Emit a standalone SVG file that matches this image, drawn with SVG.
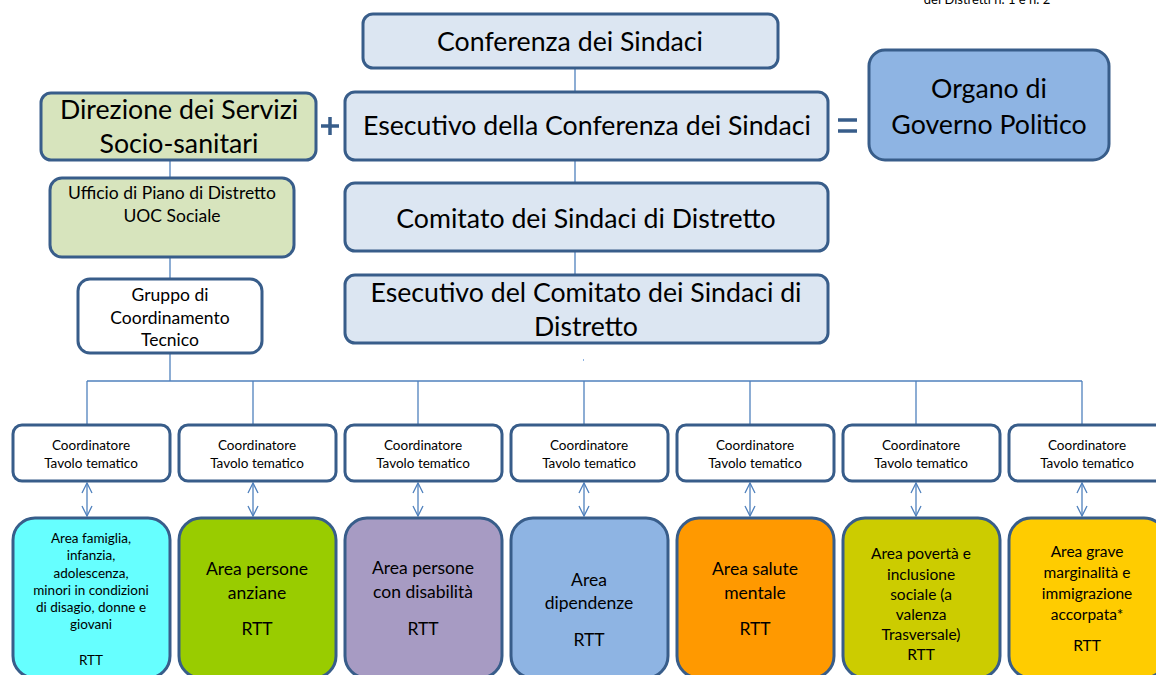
<svg xmlns="http://www.w3.org/2000/svg" width="1156" height="675" viewBox="0 0 1156 675">
<defs>
<style>
text{font-family:Lato,"Open Sans","Liberation Sans",sans-serif;fill:#000;text-anchor:middle}
.top{fill:#dce6f2;stroke:#385d8a;stroke-width:3}
.grn{fill:#d7e4bd;stroke:#385d8a;stroke-width:3}
.wht{fill:#fff;stroke:#385d8a;stroke-width:3}
.area{stroke:#385d8a;stroke-width:3}
.ln{stroke:#4f81bd;stroke-width:1.3;fill:none}
.big{font-size:26.7px}
.mid{font-size:17.5px}
.sm{font-size:13.5px}
.a16{font-size:17.5px}
.a14{font-size:15.5px}
.sym{stroke:#385d8a;stroke-width:3.5;fill:none}
</style>
<marker id="ah" viewBox="0 0 12 12" refX="11" refY="6" markerWidth="12" markerHeight="12" markerUnits="userSpaceOnUse" orient="auto-start-reverse">
<path d="M1,1 L11,6 L1,11" fill="none" stroke="#4f81bd" stroke-width="1.3"/>
</marker>
</defs>
<rect width="1156" height="675" fill="#fff"/>
<text x="987" y="4" style="font-size:13px">dei Distretti n. 1 e n. 2</text>

<g id="connectors">
<line class="ln" x1="575" y1="68" x2="575" y2="92"/>
<line class="ln" x1="575" y1="160" x2="575" y2="183"/>
<line class="ln" x1="575" y1="251" x2="575" y2="275"/>
<line class="ln" x1="170" y1="160" x2="170" y2="178"/>
<line class="ln" x1="170" y1="257" x2="170" y2="279"/>
<line class="ln" x1="170" y1="353" x2="170" y2="381"/>
<line class="ln" x1="87" y1="381" x2="1082" y2="381"/>
<line class="ln" x1="87" y1="381" x2="87" y2="425"/>
<line class="ln" x1="253" y1="381" x2="253" y2="425"/>
<line class="ln" x1="418" y1="381" x2="418" y2="425"/>
<line class="ln" x1="584" y1="381" x2="584" y2="425"/>
<line class="ln" x1="750" y1="381" x2="750" y2="425"/>
<line class="ln" x1="916" y1="381" x2="916" y2="425"/>
<line class="ln" x1="1082" y1="381" x2="1082" y2="425"/>
<line class="ln" x1="87" y1="483" x2="87" y2="516" marker-start="url(#ah)" marker-end="url(#ah)"/>
<line class="ln" x1="253" y1="483" x2="253" y2="516" marker-start="url(#ah)" marker-end="url(#ah)"/>
<line class="ln" x1="418" y1="483" x2="418" y2="516" marker-start="url(#ah)" marker-end="url(#ah)"/>
<line class="ln" x1="584" y1="483" x2="584" y2="516" marker-start="url(#ah)" marker-end="url(#ah)"/>
<line class="ln" x1="750" y1="483" x2="750" y2="516" marker-start="url(#ah)" marker-end="url(#ah)"/>
<line class="ln" x1="916" y1="483" x2="916" y2="516" marker-start="url(#ah)" marker-end="url(#ah)"/>
<line class="ln" x1="1082" y1="483" x2="1082" y2="516" marker-start="url(#ah)" marker-end="url(#ah)"/>
<rect x="583" y="359" width="1" height="2" fill="#8eb4e3"/>
</g>

<g id="plus"><path class="sym" d="M321,126 H339 M330,117 V135"/></g>
<g id="equals"><path class="sym" d="M838,120 H857 M838,131 H857"/></g>

<g id="conferenza"><rect class="top" x="363" y="14" width="415" height="54" rx="10"/><text class="big" x="570" y="51">Conferenza dei Sindaci</text></g>
<g id="esecutivo-conferenza"><rect class="top" x="345" y="92" width="483" height="68" rx="10"/><text class="big" x="587" y="135">Esecutivo della Conferenza dei Sindaci</text></g>
<g id="direzione"><rect class="grn" x="41" y="93" width="275" height="67" rx="10"/><text class="big" x="179" y="119">Direzione dei Servizi</text><text class="big" x="179" y="153">Socio-sanitari</text></g>
<g id="organo"><rect x="869" y="50" width="240" height="110" rx="16" fill="#8eb4e3" stroke="#385d8a" stroke-width="3"/><text class="big" x="989" y="98">Organo di</text><text class="big" x="989" y="134">Governo Politico</text></g>
<g id="ufficio"><rect class="grn" x="50" y="178" width="244" height="79" rx="12"/><text class="mid" x="172" y="199">Ufficio di Piano di Distretto</text><text class="mid" x="172" y="222">UOC  Sociale</text></g>
<g id="comitato"><rect class="top" x="345" y="183" width="483" height="68" rx="10"/><text class="big" x="586" y="228">Comitato dei Sindaci di Distretto</text></g>
<g id="esecutivo-comitato"><rect class="top" x="345" y="275" width="483" height="68" rx="10"/><text class="big" x="586" y="302">Esecutivo del Comitato dei Sindaci di</text><text class="big" x="586" y="336">Distretto</text></g>
<g id="gruppo"><rect class="wht" x="78" y="279" width="184" height="74" rx="12"/><text class="mid" x="170" y="301">Gruppo di</text><text class="mid" x="170" y="324">Coordinamento</text><text class="mid" x="170" y="346">Tecnico</text></g>

<g id="coord1"><rect class="wht" x="13" y="425" width="157" height="56" rx="9"/><text class="sm" x="91" y="450">Coordinatore</text><text class="sm" x="91" y="468">Tavolo tematico</text></g>
<g id="coord2"><rect class="wht" x="179" y="425" width="157" height="56" rx="9"/><text class="sm" x="257" y="450">Coordinatore</text><text class="sm" x="257" y="468">Tavolo tematico</text></g>
<g id="coord3"><rect class="wht" x="345" y="425" width="157" height="56" rx="9"/><text class="sm" x="423" y="450">Coordinatore</text><text class="sm" x="423" y="468">Tavolo tematico</text></g>
<g id="coord4"><rect class="wht" x="511" y="425" width="157" height="56" rx="9"/><text class="sm" x="589" y="450">Coordinatore</text><text class="sm" x="589" y="468">Tavolo tematico</text></g>
<g id="coord5"><rect class="wht" x="677" y="425" width="157" height="56" rx="9"/><text class="sm" x="755" y="450">Coordinatore</text><text class="sm" x="755" y="468">Tavolo tematico</text></g>
<g id="coord6"><rect class="wht" x="843" y="425" width="157" height="56" rx="9"/><text class="sm" x="921" y="450">Coordinatore</text><text class="sm" x="921" y="468">Tavolo tematico</text></g>
<g id="coord7"><rect class="wht" x="1009" y="425" width="157" height="56" rx="9"/><text class="sm" x="1087" y="450">Coordinatore</text><text class="sm" x="1087" y="468">Tavolo tematico</text></g>

<g id="area1"><rect class="area" fill="#66ffff" x="13" y="518" width="157" height="160" rx="22"/>
<text class="sm" x="91" y="543">Area famiglia,</text><text class="sm" x="91" y="560">infanzia,</text><text class="sm" x="91" y="578">adolescenza,</text><text class="sm" x="91" y="595">minori in condizioni</text><text class="sm" x="91" y="612">di disagio, donne e</text><text class="sm" x="91" y="629">giovani</text><text class="sm" x="91" y="665">RTT</text></g>
<g id="area2"><rect class="area" fill="#99cc00" x="179" y="518" width="157" height="160" rx="22"/>
<text class="a16" x="257" y="575">Area persone</text><text class="a16" x="257" y="599">anziane</text><text class="a16" x="257" y="635">RTT</text></g>
<g id="area3"><rect class="area" fill="#a79bc3" x="345" y="518" width="157" height="160" rx="22"/>
<text class="a16" x="423" y="574">Area persone</text><text class="a16" x="423" y="598">con disabilità</text><text class="a16" x="423" y="635">RTT</text></g>
<g id="area4"><rect class="area" fill="#8eb4e3" x="511" y="518" width="157" height="160" rx="22"/>
<text class="a16" x="589" y="586">Area</text><text class="a16" x="589" y="609">dipendenze</text><text class="a16" x="589" y="646">RTT</text></g>
<g id="area5"><rect class="area" fill="#ff9900" x="677" y="518" width="157" height="160" rx="22"/>
<text class="a16" x="755" y="575">Area salute</text><text class="a16" x="755" y="599">mentale</text><text class="a16" x="755" y="635">RTT</text></g>
<g id="area6"><rect class="area" fill="#cccc00" x="843" y="518" width="157" height="160" rx="22"/>
<text class="a14" x="921" y="559">Area povertà e</text><text class="a14" x="921" y="580">inclusione</text><text class="a14" x="921" y="600">sociale (a</text><text class="a14" x="921" y="620">valenza</text><text class="a14" x="921" y="640">Trasversale)</text><text class="a14" x="921" y="660">RTT</text></g>
<g id="area7"><rect class="area" fill="#ffcc00" x="1009" y="518" width="157" height="160" rx="22"/>
<text class="a14" x="1087" y="557">Area grave</text><text class="a14" x="1087" y="578">marginalità e</text><text class="a14" x="1087" y="599">immigrazione</text><text class="a14" x="1087" y="620">accorpata*</text><text class="a14" x="1087" y="651">RTT</text></g>
</svg>
